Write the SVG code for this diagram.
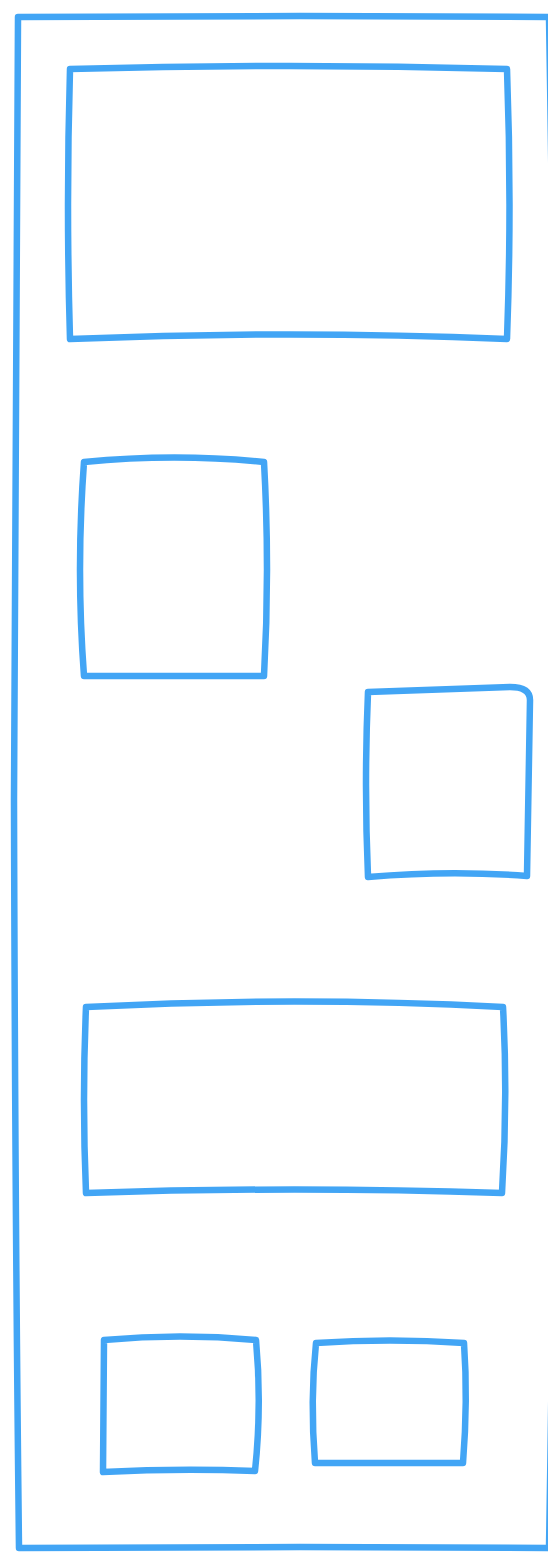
<svg xmlns="http://www.w3.org/2000/svg" width="548" height="1552" viewBox="0 0 548 1552">
<style>
.s{fill:none;stroke:#42a5f5;stroke-width:6.5;stroke-linejoin:round;stroke-linecap:round}
</style>
<rect width="548" height="1552" fill="#ffffff"/>
<g id="frame">
<path class="s" d="M549,17 L300,16 L18,17 Q15,400 14,800 Q15,1200 19,1548 L300,1547 L549,1548 Q562,780 549,17 Z"/>
</g>
<g id="box1">
<path class="s" d="M70,69 Q290,63 507,69 Q512,205 507,339 Q290,330 70,339 Q66,205 70,69 Z"/>
</g>
<g id="box2">
<path class="s" d="M84,462 Q175,453 264,462 Q270,570 264,676 L84,676 Q76,570 84,462 Z"/>
</g>
<g id="box3">
<path class="s" d="M368,692 L510,687 Q530,687 530,700 L527,876 Q450,870 368,877 Q364,785 368,692 Z"/>
</g>
<g id="box4">
<path class="s" d="M86,1007 Q295,996 503,1007 Q508,1100 502,1193 Q295,1186 86,1193 Q82,1100 86,1007 Z"/>
</g>
<g id="box5">
<path class="s" d="M104,1340 Q180,1333 256,1340 Q262,1405 255,1471 Q180,1468 103,1472 L104,1340 Z"/>
</g>
<g id="box6">
<path class="s" d="M316,1343 Q390,1338 464,1343 Q468,1400 463,1463 L315,1463 Q310,1400 316,1343 Z"/>
</g>
<g id="connectors"></g>
</svg>
